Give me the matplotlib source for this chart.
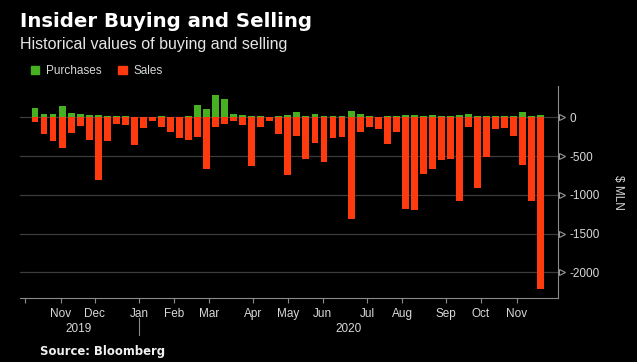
import numpy as np
import matplotlib
matplotlib.use("Agg")
import matplotlib.pyplot as plt
import matplotlib.transforms as mtransforms
from matplotlib.patches import Patch

# ---------------- data ----------------
purchases = [118, 40, 44, 145, 57, 44, 35, 26, 15, 22,
             12, 8, 10, 10, 12, 10, 10, 12, 158, 101,
             290, 241, 45, 25, 17, 17, 8, 13, 30, 65,
             22, 47, 17, 22, 22, 86, 43, 13, 9, 17,
             13, 34, 34, 17, 34, 20, 17, 28, 47, 17,
             22, 22, 22, 22, 65, 22, 34]
sales = [-57, -214, -310, -393, -207, -115, -289, -805, -302, -90,
         -103, -362, -133, -48, -125, -195, -262, -290, -249, -673,
         -128, -88, -52, -100, -630, -128, -42, -220, -745, -235,
         -543, -332, -571, -261, -260, -1314, -192, -120, -150, -340,
         -190, -1183, -1196, -730, -670, -552, -544, -1077, -122, -910,
         -513, -152, -137, -235, -621, -1077, -2210]
month_labels = ["", "Nov", "Dec", "Jan", "Feb", "Mar", "Apr", "May", "Jun",
                "Jul", "Aug", "Sep", "Oct", "Nov"]
month_pos = [-1.1, 2.85, 6.61, 11.52, 15.43, 19.27, 24.11, 28.05, 31.86,
             36.77, 40.64, 45.48, 49.36, 53.34]
year_labels = ["2019", "2020"]
year_pos = [4.84, 34.77]
y_ticks = [0, -500, -1000, -1500, -2000]

GREEN = "#46b020"
RED = "#ff3a0e"
BG = "black"
TXT = "#d9d9d9"
AXC = "#8a8a8a"

plt.rcParams['font.family'] = ['Liberation Sans', 'DejaVu Sans']

fig = plt.figure(figsize=(6.37, 3.62), dpi=100, facecolor=BG)
W, H = 637, 362
ax = fig.add_axes([20 / W, 1 - 297.7 / H, (557.7 - 20) / W, (297.7 - 86) / H])
ax.set_facecolor(BG)

x = np.arange(len(sales))
ax.bar(x, purchases, width=0.76, color=GREEN, label="Purchases", zorder=3)
ax.bar(x, sales, width=0.76, color=RED, label="Sales", zorder=3)

ax.set_xlim(-1.66, 57.88)
ax.set_ylim(-2328, 404)

# grid
for yt in y_ticks:
    ax.axhline(yt, color="#3c3c3c", lw=0.9, zorder=1)

# spines
for s in ["left", "top"]:
    ax.spines[s].set_visible(False)
ax.spines["right"].set_color(AXC)
ax.spines["bottom"].set_color(AXC)
ax.spines["right"].set_linewidth(0.8)
ax.spines["bottom"].set_linewidth(0.8)

# y axis on right
ax.yaxis.tick_right()
ax.set_yticks(y_ticks)
ax.set_yticklabels([str(v) for v in y_ticks])
ax.tick_params(axis="y", length=0, pad=8.5, labelsize=8.5, labelcolor=TXT)
tri_t = mtransforms.offset_copy(
    mtransforms.blended_transform_factory(ax.transAxes, ax.transData),
    fig=fig, x=4.0, y=0, units="dots")
ax.plot([1.0] * len(y_ticks), y_ticks, transform=tri_t, ls="none",
        marker=">", ms=4.5, mfc="none", mec="#9a9a9a", mew=0.8, clip_on=False)
fig.text(618 / W, 1 - 192 / H, "$ MLN", rotation=-90, ha="center", va="center",
         color=TXT, fontsize=8.5)

# x axis
ax.set_xticks(month_pos)
ax.set_xticklabels(month_labels)
ax.tick_params(axis="x", direction="out", length=3.5, width=0.8, color=AXC,
               pad=4, labelsize=8.5, labelcolor=TXT)

bt = mtransforms.blended_transform_factory(ax.transData, fig.transFigure)
for lab, p in zip(year_labels, year_pos):
    ax.text(p, 1 - 328.5 / H, lab, transform=bt, ha="center", va="center",
            color=TXT, fontsize=8.5)
ax.plot([month_pos[3], month_pos[3]], [1 - 318 / H, 1 - 335 / H], transform=bt,
        color=AXC, lw=0.8, clip_on=False)

# titles
fig.text(20.5 / W, 1 - 27 / H, "Insider Buying and Selling", ha="left",
         va="baseline", color="white", fontsize=14.2, fontweight="bold",
         family="DejaVu Sans")
fig.text(20.5 / W, 1 - 49 / H, "Historical values of buying and selling",
         ha="left", va="baseline", color="#e6e6e6", fontsize=11.5)
fig.text(40.5 / W, 1 - 355 / H, "Source: Bloomberg", ha="left", va="baseline",
         color="#f0f0f0", fontsize=8.4, fontweight="bold", family="DejaVu Sans")

# legend
handles = [Patch(color=GREEN), Patch(color=RED)]
leg = fig.legend(handles, ["Purchases", "Sales"], loc="center left",
                 bbox_to_anchor=(30.5 / W, 1 - 71 / H), ncol=2, frameon=False,
                 handlelength=0.75, handleheight=0.75, handletextpad=0.55,
                 columnspacing=1.4, borderaxespad=0, borderpad=0,
                 fontsize=8.5, labelcolor=TXT)

fig.savefig("out.png", dpi=100, facecolor=BG)
